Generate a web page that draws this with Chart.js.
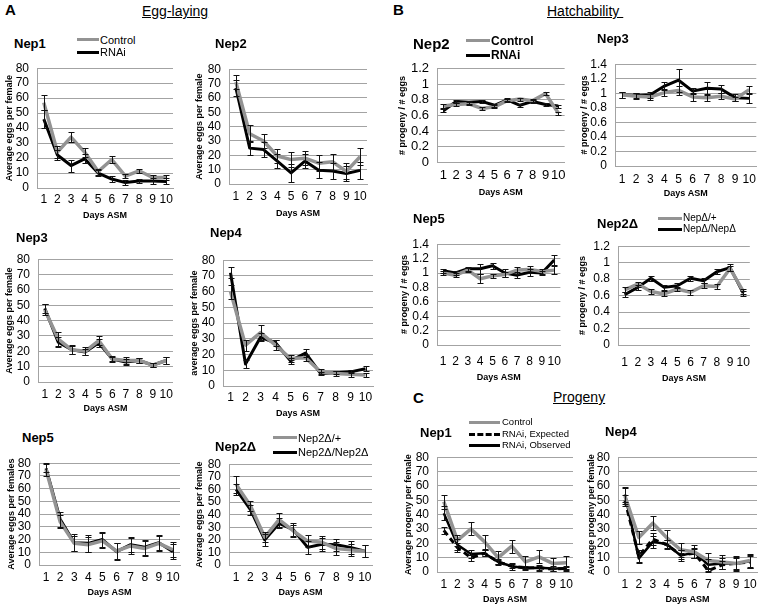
<!DOCTYPE html>
<html>
<head>
<meta charset="utf-8">
<script src="https://cdn.jsdelivr.net/npm/chart.js@4.4.1/dist/chart.umd.min.js"></script>
<style>
  body { margin: 0; background: #fff; width: 760px; height: 605px; position: relative; overflow: hidden;
         font-family: "Liberation Sans", Arial, sans-serif; }
  canvas { position: absolute; }
  .t { position: absolute; white-space: nowrap; color: #000; line-height: 1; transform: translateY(-50%); }
  .ln { position: absolute; }
</style>
</head>
<body>
<script>
// ---------------------------------------------------------------------------
// data
// ---------------------------------------------------------------------------
const days = ['1', '2', '3', '4', '5', '6', '7', '8', '9', '10'];

// A - egg-laying
const eggNep1Control = [57, 24, 34, 24, 11, 19, 8, 11.5, 7, 7];
const eggNep1ControlErr = [5, 4, 3.5, 3, 2, 2.5, 1.5, 1.5, 2, 1.5];
const eggNep1Rnai = [46, 22, 15, 19.5, 10, 6, 3.6, 4.6, 4.6, 4.4];
const eggNep1RnaiErr = [6, 3.5, 4, 3, 2, 2, 1.5, 1.5, 2, 2];

const eggNep2Control = [71, 35, 30, 19.5, 17, 18, 14.5, 15.5, 8.8, 19];
const eggNep2ControlErr = [5, 6, 5, 5, 5.5, 5, 5.5, 5.5, 5.5, 6];
const eggNep2Rnai = [67, 25, 24, 16, 7.7, 16, 9.5, 9, 7.3, 9.5];
const eggNep2RnaiErr = [5.5, 5, 5.5, 5, 6, 5, 5.5, 5.5, 5, 6];

const eggNep3Control = [47, 28, 21, 20, 27, 15, 14, 14, 11, 14];
const eggNep3ControlErr = [3.5, 4.5, 3, 2.5, 3, 2, 2.5, 1.5, 1.5, 2.5];
const eggNep3Rnai = [48, 26, 21, 19.5, 25.5, 15, 13, 14, 11, 14];
const eggNep3RnaiErr = [3, 3, 2.5, 2, 2.5, 1.5, 2, 1.5, 1.5, 2];

const eggNep4Control = [60, 26, 34, 26, 17.5, 18, 9, 8, 7.5, 7];
const eggNep4ControlErr = [4.5, 3.5, 4.5, 3, 2, 2, 1.5, 1.5, 1.5, 1.5];
const eggNep4Rnai = [72, 14, 31, 27.5, 16, 21, 8, 8.5, 9, 11];
const eggNep4RnaiErr = [3.5, 2.5, 2.5, 2, 2, 2.5, 1, 1, 1, 1.5];

const eggNep5Control = [75, 34, 17, 16, 19, 11, 15, 13, 17, 12];
const eggNep5ControlErr = [5, 5, 6, 6, 6, 6, 6, 6, 6, 6];
const eggNep5Rnai = [76, 36, 17.5, 17, 20, 10.5, 16, 14, 17.5, 10.5];
const eggNep5RnaiErr = [3, 6, 6.5, 6.5, 6, 6.5, 6, 6, 6, 6];

const eggNep2dHet = [64, 47, 22, 36, 27, 19, 18, 13, 12, 11];
const eggNep2dHetErr = [6.5, 4, 4, 5.5, 5, 5, 5, 5, 5, 5];
const eggNep2dHom = [60, 44, 20, 33, 28, 14, 16.5, 16, 14, 11];
const eggNep2dHomErr = [4.5, 4, 5, 4, 5, 5, 5, 5, 5, 5];

// B - hatchability
const hatNep2Control = [0.72, 0.74, 0.75, 0.69, 0.71, 0.79, 0.81, 0.79, 0.88, 0.63];
const hatNep2ControlErr = [0.03, 0.02, 0.02, 0.02, 0.02, 0.02, 0.02, 0.02, 0.02, 0.02];
const hatNep2Rnai = [0.66, 0.78, 0.77, 0.78, 0.73, 0.80, 0.73, 0.78, 0.74, 0.72];
const hatNep2RnaiErr = [0.02, 0.02, 0.02, 0.02, 0.02, 0.02, 0.02, 0.02, 0.02, 0.02];

const hatNep3Control = [0.98, 0.96, 0.95, 1.01, 1.04, 0.95, 0.94, 0.96, 0.92, 1.05];
const hatNep3ControlErr = [0.04, 0.04, 0.04, 0.05, 0.06, 0.05, 0.04, 0.04, 0.03, 0.05];
const hatNep3Rnai = [0.98, 0.97, 0.98, 1.10, 1.18, 1.03, 1.07, 1.06, 0.94, 0.93];
const hatNep3RnaiErr = [0.04, 0.04, 0.04, 0.06, 0.16, 0.04, 0.08, 0.06, 0.05, 0.06];

const hatNep5Control = [1.0, 0.97, 1.04, 0.92, 0.96, 0.98, 1.04, 1.05, 1.02, 1.04];
const hatNep5ControlErr = [0.03, 0.03, 0.03, 0.06, 0.03, 0.04, 0.05, 0.05, 0.03, 0.06];
const hatNep5Rnai = [1.03, 1.0, 1.06, 1.06, 1.10, 1.0, 0.97, 1.01, 1.0, 1.18];
const hatNep5RnaiErr = [0.03, 0.03, 0.03, 0.07, 0.04, 0.05, 0.04, 0.05, 0.03, 0.07];

const hatNep2dHet = [0.67, 0.74, 0.65, 0.62, 0.68, 0.64, 0.72, 0.71, 0.93, 0.65];
const hatNep2dHetErr = [0.03, 0.03, 0.03, 0.03, 0.03, 0.03, 0.03, 0.03, 0.03, 0.03];
const hatNep2dHom = [0.61, 0.70, 0.81, 0.70, 0.72, 0.81, 0.78, 0.89, 0.94, 0.63];
const hatNep2dHomErr = [0.03, 0.03, 0.03, 0.03, 0.03, 0.03, 0.03, 0.03, 0.04, 0.03];

// C - progeny
const proNep1Control = [49, 22, 30, 21, 10, 18, 7, 10.5, 6, 6.5];
const proNep1ControlErr = [5, 4, 4.5, 5, 4.5, 4.5, 4, 4.5, 4, 4.5];
const proNep1Expected = [29, 17, 10, 13, 7, 4, 3, 3, 2, 2.5];
const proNep1ExpectedErr = [2.5, 3, 2, 2, 1.5, 1.5, 1, 1.5, 1, 1];
const proNep1Observed = [41, 19, 12.5, 13, 7, 4, 2.6, 3, 2.5, 2.5];
const proNep1ObservedErr = [5, 4, 2.5, 2, 2, 2.5, 1.5, 2, 1.5, 2];

const proNep4Control = [53, 24, 34, 24, 15.5, 14, 8, 7, 6, 8];
const proNep4ControlErr = [5.5, 4.5, 5, 5, 5, 4.5, 5, 5, 5, 4.5];
const proNep4Expected = [50, 11, 23, 19, 12, 13, 1, 5, 6, 7];
const proNep4ExpectedErr = [4, 4, 4, 3, 3, 3, 1, 3, 4, 4];
const proNep4Observed = [54, 9.5, 21, 19.5, 11.5, 13.5, 5, 6, 6, 7.5];
const proNep4ObservedErr = [5, 3.5, 4, 3, 3.5, 3.5, 4, 4, 4.5, 4.5];

// ---------------------------------------------------------------------------
// styling helpers
// ---------------------------------------------------------------------------
const GRAY = '#939393';
const GRID = '#a3a3a3';
const FONT = '"Liberation Sans", Arial, sans-serif';

// error bars drawn from the dataset values through the y scale
const errorBars = {
  id: 'errorBars',
  afterDatasetsDraw(chart) {
    const ctx = chart.ctx;
    const yScale = chart.scales.y;
    chart.data.datasets.forEach((ds, i) => {
      if (!ds.errors) return;
      const meta = chart.getDatasetMeta(i);
      ctx.save();
      ctx.strokeStyle = '#111';
      ctx.lineWidth = 1;
      meta.data.forEach((pt, j) => {
        const e = ds.errors[j];
        if (!e) return;
        const v = ds.data[j];
        const top = Math.round(yScale.getPixelForValue(v + e)) + 0.5;
        const bot = Math.round(yScale.getPixelForValue(Math.max(0, v - e))) + 0.5;
        const x = Math.round(pt.x) + 0.5;
        ctx.beginPath();
        ctx.moveTo(x, top); ctx.lineTo(x, bot);
        ctx.moveTo(x - 3, top); ctx.lineTo(x + 3, top);
        ctx.moveTo(x - 3, bot); ctx.lineTo(x + 3, bot);
        ctx.stroke();
      });
      ctx.restore();
    });
  }
};

function series(data, errors, color, width, dash) {
  return {
    data: data, errors: errors,
    borderColor: color, borderWidth: width, borderDash: dash || [],
    pointRadius: 0, tension: 0, fill: false, borderJoinStyle: 'round'
  };
}

function addText(txt, x, y, size, bold, extra) {
  const d = document.createElement('div');
  d.className = 't';
  d.textContent = txt;
  d.style.left = x + 'px';
  d.style.top = y + 'px';
  d.style.fontSize = size + 'px';
  d.style.fontWeight = bold ? 'bold' : 'normal';
  if (extra) Object.assign(d.style, extra);
  document.body.appendChild(d);
}

function addLegendLine(x1, x2, y, color, width, dashed) {
  const d = document.createElement('div');
  d.className = 'ln';
  d.style.left = x1 + 'px';
  d.style.width = (x2 - x1) + 'px';
  d.style.top = (y - width / 2) + 'px';
  d.style.height = '0px';
  d.style.borderTop = width + 'px ' + (dashed ? 'dashed ' : 'solid ') + color;
  document.body.appendChild(d);
}

// g: pixel box of the plot (axis x, right edge, y of max, y of zero, label rows)
function drawChart(g, yMax, yStep, yTitle, datasets, tickSize) {
  tickSize = tickSize || 12;
  const left = g.titleX - 6;
  const top = g.top - 9;
  const cv = document.createElement('canvas');
  cv.width = g.right - left + 6;
  cv.height = g.daysY + 6 - top;
  cv.style.left = left + 'px';
  cv.style.top = top + 'px';
  document.body.appendChild(cv);

  new Chart(cv, {
    type: 'line',
    data: { labels: days, datasets: datasets },
    options: {
      responsive: false,
      animation: false,
      layout: { padding: { top: 9, right: 6, left: 0, bottom: 0 } },
      plugins: { legend: { display: false }, tooltip: { enabled: false } },
      scales: {
        x: {
          offset: true,
          grid: { display: false, drawTicks: false },
          border: { color: GRID, width: 1 },
          ticks: { color: '#000', font: { family: FONT, size: tickSize },
                   padding: g.labelY - g.bottom - tickSize * 0.6, maxRotation: 0, autoSkip: false },
          title: { display: true, text: 'Days ASM', color: '#000', padding: 0,
                   font: { family: FONT, size: 9, weight: 'bold' } },
          afterFit(s) { s.height = g.daysY + 6 - g.bottom; }
        },
        y: {
          min: 0, max: yMax,
          grid: { color: GRID, drawTicks: false },
          border: { color: GRID, width: 1 },
          ticks: { stepSize: yStep, color: '#000', padding: 8, autoSkip: false,
                   font: { family: FONT, size: tickSize },
                   callback: v => String(+v.toFixed(1)) },
          title: { display: true, text: yTitle, color: '#000', padding: 0,
                   font: { family: FONT, size: 9, weight: 'bold' } },
          afterFit(s) { s.width = g.axisX - left; }
        }
      }
    },
    plugins: [errorBars]
  });
}

// ---------------------------------------------------------------------------
// A - Egg-laying
// ---------------------------------------------------------------------------
addText('A', 5, 9, 15, true);
addText('Egg-laying', 142, 11, 14, false, { textDecoration: 'underline' });

drawChart({ titleX: 10, axisX: 37, right: 173, top: 62, bottom: 188, labelY: 200, daysY: 215 },
  80, 10, 'Average eggs per female', [
    series(eggNep1Control, eggNep1ControlErr, GRAY, 3.5),
    series(eggNep1Rnai, eggNep1RnaiErr, '#000', 3)
  ]);
addText('Nep1', 14, 43, 13, true);
addLegendLine(77, 99, 40, GRAY, 3.5);
addText('Control', 100, 40, 11, false);
addLegendLine(77, 99, 52, '#000', 3);
addText('RNAi', 100, 52, 11, false);

drawChart({ titleX: 200, axisX: 229, right: 367, top: 63, bottom: 184, labelY: 197, daysY: 213 },
  80, 10, 'Average eggs per female', [
    series(eggNep2Control, eggNep2ControlErr, GRAY, 3.5),
    series(eggNep2Rnai, eggNep2RnaiErr, '#000', 3)
  ]);
addText('Nep2', 215, 43, 13, true);

drawChart({ titleX: 10, axisX: 38, right: 173, top: 253, bottom: 382, labelY: 395, daysY: 408 },
  80, 10, 'Average eggs per female', [
    series(eggNep3Control, eggNep3ControlErr, GRAY, 3.5),
    series(eggNep3Rnai, eggNep3RnaiErr, '#000', 3)
  ]);
addText('Nep3', 16, 237, 13, true);

drawChart({ titleX: 195, axisX: 223, right: 373, top: 254, bottom: 386, labelY: 398, daysY: 413 },
  80, 10, 'average eggs per female', [
    series(eggNep4Control, eggNep4ControlErr, GRAY, 3.5),
    series(eggNep4Rnai, eggNep4RnaiErr, '#000', 3)
  ]);
addText('Nep4', 210, 232, 13, true);

drawChart({ titleX: 12, axisX: 39, right: 180, top: 457, bottom: 565, labelY: 578, daysY: 592 },
  80, 10, 'Average eggs per females', [
    series(eggNep5Control, eggNep5ControlErr, GRAY, 3.5),
    series(eggNep5Rnai, eggNep5RnaiErr, '#000', 3)
  ]);
addText('Nep5', 22, 437, 13, true);

drawChart({ titleX: 200, axisX: 229, right: 372, top: 458, bottom: 565, labelY: 578, daysY: 592 },
  80, 10, 'Average eggs per female', [
    series(eggNep2dHet, eggNep2dHetErr, GRAY, 3.5),
    series(eggNep2dHom, eggNep2dHomErr, '#000', 3)
  ]);
addText('Nep2\u0394', 215, 446, 13, true);
addLegendLine(273, 297, 438, GRAY, 3.5);
addText('Nep2\u0394/+', 298, 438, 11, false);
addLegendLine(273, 297, 452, '#000', 3);
addText('Nep2\u0394/Nep2\u0394', 298, 452, 11, false);

// ---------------------------------------------------------------------------
// B - Hatchability
// ---------------------------------------------------------------------------
addText('B', 393, 9, 15, true);
addText('Hatchability\u00a0', 547, 11, 14, false, { textDecoration: 'underline' });

drawChart({ titleX: 403, axisX: 437, right: 565, top: 62, bottom: 162, labelY: 175, daysY: 192 },
  1.2, 0.2, '# progeny / # eggs', [
    series(hatNep2Control, hatNep2ControlErr, GRAY, 3.5),
    series(hatNep2Rnai, hatNep2RnaiErr, '#000', 3)
  ], 13);
addText('Nep2', 413, 43, 15, true);
addLegendLine(466, 490, 41, GRAY, 3.5);
addText('Control', 491, 41, 12, true);
addLegendLine(466, 490, 55, '#000', 3);
addText('RNAi', 491, 55, 12, true);

drawChart({ titleX: 585, axisX: 615, right: 757, top: 58, bottom: 166, labelY: 180, daysY: 193 },
  1.4, 0.2, '# progeny / # eggs', [
    series(hatNep3Control, hatNep3ControlErr, GRAY, 3.5),
    series(hatNep3Rnai, hatNep3RnaiErr, '#000', 3)
  ]);
addText('Nep3', 597, 38, 13, true);

drawChart({ titleX: 405, axisX: 437, right: 565, top: 238, bottom: 345, labelY: 362, daysY: 377 },
  1.4, 0.2, '# progeny / # eggs', [
    series(hatNep5Control, hatNep5ControlErr, GRAY, 3.5),
    series(hatNep5Rnai, hatNep5RnaiErr, '#000', 3)
  ]);
addText('Nep5', 413, 218, 13, true);

drawChart({ titleX: 583, axisX: 618, right: 755, top: 240, bottom: 345, labelY: 363, daysY: 378 },
  1.2, 0.2, '# progeny / # eggs', [
    series(hatNep2dHet, hatNep2dHetErr, GRAY, 3.5),
    series(hatNep2dHom, hatNep2dHomErr, '#000', 3)
  ]);
addText('Nep2\u0394', 597, 223, 13, true);
addLegendLine(658, 682, 218, GRAY, 3);
addText('Nep\u0394/+', 683, 218, 10, false);
addLegendLine(658, 682, 229, '#000', 3);
addText('Nep\u0394/Nep\u0394', 683, 229, 10, false);

// ---------------------------------------------------------------------------
// C - Progeny
// ---------------------------------------------------------------------------
addText('C', 413, 397, 15, true);
addText('Progeny', 553, 397, 14, false, { textDecoration: 'underline' });

drawChart({ titleX: 409, axisX: 437, right: 573, top: 451, bottom: 572, labelY: 585, daysY: 599 },
  80, 10, 'Average progeny per female', [
    series(proNep1Control, proNep1ControlErr, GRAY, 3.5),
    series(proNep1Expected, proNep1ExpectedErr, '#000', 3, [6, 4]),
    series(proNep1Observed, proNep1ObservedErr, '#000', 2.5)
  ]);
addText('Nep1', 420, 432, 13, true);
addLegendLine(469, 500, 422, GRAY, 3);
addText('Control', 502, 422, 9.5, false);
addLegendLine(469, 500, 434, '#000', 3, true);
addText('RNAi, Expected', 502, 434, 9.5, false);
addLegendLine(469, 500, 445, '#000', 3);
addText('RNAi, Observed', 502, 445, 9.5, false);

drawChart({ titleX: 592, axisX: 618, right: 757, top: 451, bottom: 572, labelY: 585, daysY: 599 },
  80, 10, 'Average progeny per female', [
    series(proNep4Control, proNep4ControlErr, GRAY, 3.5),
    series(proNep4Expected, proNep4ExpectedErr, '#000', 3, [6, 4]),
    series(proNep4Observed, proNep4ObservedErr, '#000', 2.5)
  ]);
addText('Nep4', 605, 431, 13, true);
</script>
</body>
</html>
